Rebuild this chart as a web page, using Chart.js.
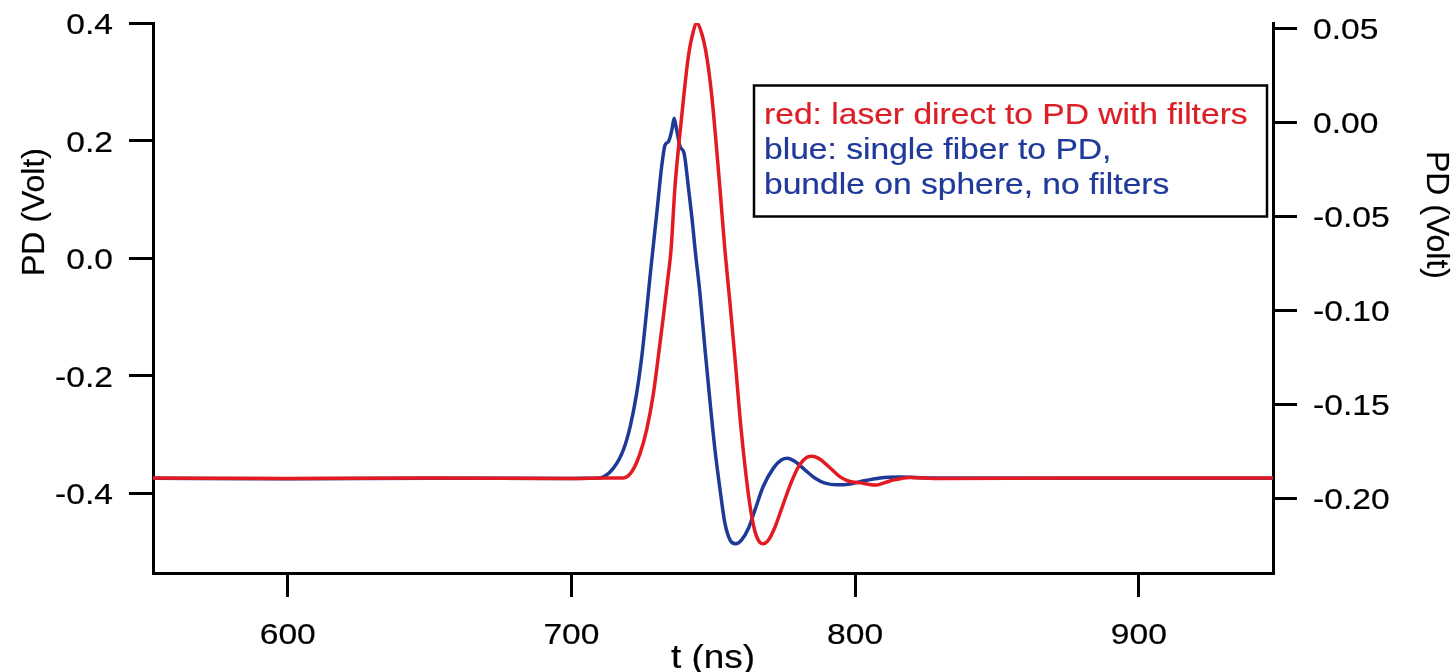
<!DOCTYPE html>
<html>
<head>
<meta charset="utf-8">
<title>PD pulse</title>
<script src="https://cdn.jsdelivr.net/npm/chart.js@4.4.1/dist/chart.umd.min.js"></script>
<style>
  html, body { margin: 0; padding: 0; background: #fff; }
  #wrap { width: 1456px; height: 672px; }
</style>
</head>
<body>
<div id="wrap"><canvas id="pulseChart" width="1456" height="672"></canvas></div>
<script>
// red trace: laser direct to photodiode, left axis (V)
const redT = [552.5, 600, 650, 700, 712, 718.3, 721.3, 724.2, 726.5, 728.9, 730.6, 732.4, 734.2, 735.1, 736.5, 738.0,
  739.7, 741.2, 742.8, 744.2, 745.9, 747.7, 749.5, 751.0, 752.4, 754.1, 755.9, 757.7, 759.4, 761.2, 763.0, 764.7,
  766.5, 767.6, 769.4, 771.8, 774.1, 777.1, 780.0, 782.9, 784.9, 787.6, 791.2, 794.7, 798.2, 801.7, 806.9, 812.3,
  819.3, 829.9, 880, 947.3];
const redV = [-0.374, -0.375, -0.374, -0.375, -0.374, -0.374, -0.363, -0.332, -0.292, -0.230, -0.168, -0.099, -0.026, 0.014, 0.122, 0.201,
  0.281, 0.343, 0.383, 0.400, 0.383, 0.343, 0.275, 0.196, 0.116, 0.014, -0.077, -0.173, -0.270, -0.355, -0.423, -0.465,
  -0.484, -0.486, -0.480, -0.457, -0.426, -0.386, -0.355, -0.339, -0.337, -0.342, -0.357, -0.372, -0.380, -0.382, -0.386, -0.379,
  -0.373, -0.375, -0.374, -0.374];

// blue trace: single fiber to photodiode, right axis (V)
const blueT = [552.5, 600, 650, 700, 707, 710.1, 714.8, 718.3, 720.7, 723.0, 724.8, 726.3, 727.7, 728.7, 730.1, 731.8,
  733.0, 734.2, 735.4, 736.2, 737.1, 738.3, 739.7, 741.2, 742.8, 743.6, 745.3, 747.1, 748.9, 750.6, 752.4, 754.1,
  755.9, 757.9, 760.0, 762.4, 764.7, 767.6, 771.2, 774.1, 776.2, 778.8, 782.3, 785.9, 789.4, 793.5, 797.6, 801.7,
  808.8, 815.8, 826.4, 880, 947.3];
const blueV = [-0.1894, -0.1896, -0.1894, -0.1895, -0.1894, -0.1892, -0.1840, -0.1743, -0.1619, -0.1441, -0.1247, -0.1034, -0.0821, -0.0679, -0.0482, -0.0236,
  -0.0121, -0.0103, -0.0041, 0.0021, -0.0041, -0.0130, -0.0165, -0.0343, -0.0555, -0.0679, -0.0910, -0.1211, -0.1495, -0.1743, -0.1956, -0.2133,
  -0.2222, -0.2243, -0.2222, -0.2160, -0.2062, -0.1938, -0.1840, -0.1796, -0.1787, -0.1805, -0.1849, -0.1894, -0.1920, -0.1929, -0.1926, -0.1912,
  -0.1892, -0.1887, -0.1892, -0.1894, -0.1894];

const xTicks = [600, 700, 800, 900];
const leftTicks = [0.4, 0.2, 0.0, -0.2, -0.4];
const rightTicks = [0.05, 0.00, -0.05, -0.10, -0.15, -0.20];

const legendLines = [
  { text: 'red: laser direct to PD with filters', color: '#dc1f26' },
  { text: 'blue: single fiber to PD,', color: '#1f3a9a' },
  { text: 'bundle on sphere, no filters', color: '#1f3a9a' }
];

const FONT = '"Liberation Sans", Arial, sans-serif';
const FS = 30;
const SX = 1.12; // text is drawn a bit wide

function wideText(ctx, str, x, y, align, size, color) {
  ctx.save();
  ctx.font = size + 'px ' + FONT;
  ctx.fillStyle = color || '#000';
  ctx.strokeStyle = color || '#000';
  ctx.lineWidth = 0.2;
  ctx.textBaseline = 'alphabetic';
  ctx.textAlign = 'left';
  const w = ctx.measureText(str).width * SX;
  let left = x;
  if (align === 'right') left = x - w;
  else if (align === 'center') left = x - w / 2;
  ctx.translate(left, y);
  ctx.scale(SX, 1);
  ctx.fillText(str, 0, 0);
  ctx.strokeText(str, 0, 0);
  ctx.restore();
}

function rotatedTitle(ctx, str, x, y, angle, size) {
  ctx.save();
  ctx.font = size + 'px ' + FONT;
  ctx.fillStyle = '#000';
  ctx.strokeStyle = '#000';
  ctx.lineWidth = 0.2;
  ctx.textAlign = 'center';
  ctx.textBaseline = 'alphabetic';
  ctx.translate(x, y);
  ctx.rotate(angle);
  ctx.fillText(str, 0, 0);
  ctx.strokeText(str, 0, 0);
  ctx.restore();
}

const labelsAndLegend = {
  id: 'labelsAndLegend',
  afterDraw(chart) {
    const ctx = chart.ctx;
    const { x, yL, yR } = chart.scales;
    const mid = 0.358 * FS; // digit centre above baseline

    leftTicks.forEach(v => wideText(ctx, v.toFixed(1), 113, yL.getPixelForValue(v) + mid, 'right', FS));
    rightTicks.forEach(v => wideText(ctx, v.toFixed(2), 1313, yR.getPixelForValue(v) + mid, 'left', FS));
    xTicks.forEach(v => wideText(ctx, String(v), x.getPixelForValue(v), 644, 'center', FS));

    rotatedTitle(ctx, 'PD (Volt)', 44, 212, -Math.PI / 2, 32);
    rotatedTitle(ctx, 'PD (Volt)', 1427, 215, Math.PI / 2, 32);
    wideText(ctx, 't (ns)', (chart.chartArea.left + chart.chartArea.right) / 2, 668, 'center', 33);

    // boxed note
    ctx.save();
    ctx.fillStyle = '#fff';
    ctx.fillRect(754, 85.5, 513, 131);
    ctx.strokeStyle = '#000';
    ctx.lineWidth = 2.5;
    ctx.strokeRect(754, 85.5, 513, 131);
    ctx.restore();
    const baselines = [124, 159, 194];
    legendLines.forEach((ln, i) => wideText(ctx, ln.text, 764, baselines[i], 'left', FS, ln.color));
  }
};

function axisLook(ticks, width) {
  return {
    ticks: { display: false },
    grid: { display: true, drawOnChartArea: false, drawTicks: true, tickLength: 24, color: '#000', lineWidth: 3 },
    border: { display: true, color: '#000', width: 3 },
    afterBuildTicks: scale => { scale.ticks = ticks.map(v => ({ value: v })); },
    afterFit: scale => {
      if (scale.isHorizontal()) scale.height = width; else scale.width = width;
    }
  };
}

const ctx = document.getElementById('pulseChart');
new Chart(ctx, {
  type: 'line',
  data: {
    datasets: [
      {
        label: 'red',
        data: redT.map((t, i) => ({ x: t, y: redV[i] })),
        yAxisID: 'yL',
        borderColor: '#e41a22',
        borderWidth: 3.5,
        pointRadius: 0,
        cubicInterpolationMode: 'monotone'
      },
      {
        label: 'blue',
        data: blueT.map((t, i) => ({ x: t, y: blueV[i] })),
        yAxisID: 'yR',
        borderColor: '#1d3a96',
        borderWidth: 3.5,
        pointRadius: 0,
        cubicInterpolationMode: 'monotone'
      }
    ]
  },
  options: {
    responsive: false,
    animation: false,
    devicePixelRatio: 1,
    layout: { padding: { top: 23, left: 0, right: 0, bottom: 0 } },
    plugins: { legend: { display: false }, tooltip: { enabled: false } },
    scales: {
      x: Object.assign({ type: 'linear', position: 'bottom', min: 552.5, max: 947.3 }, axisLook(xTicks, 99)),
      yL: Object.assign({ type: 'linear', position: 'left', min: -0.5357, max: 0.4005 }, axisLook(leftTicks, 153)),
      yR: Object.assign({ type: 'linear', position: 'right', min: -0.2398, max: 0.0528 }, axisLook(rightTicks, 183))
    }
  },
  plugins: [labelsAndLegend]
});
</script>
</body>
</html>
